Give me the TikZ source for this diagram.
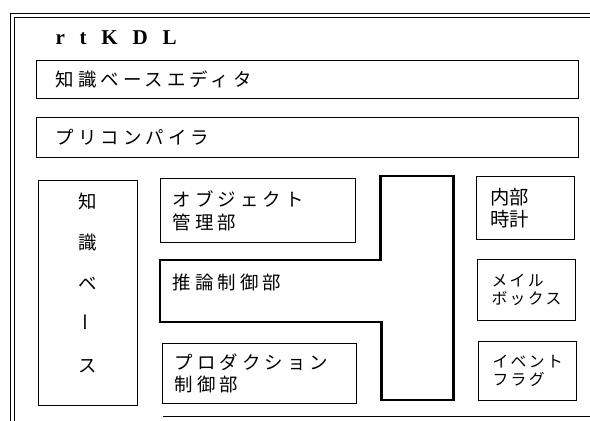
\documentclass[tikz,border=0pt]{standalone}
\usepackage{fontspec}
\usepackage{graphicx}
\newfontfamily\jp[LetterSpace=22]{Noto Sans CJK JP}
\newfontfamily\jpn{Noto Sans CJK JP}
\newfontfamily\jpsm[LetterSpace=15]{Noto Sans CJK JP}
\newfontfamily\ttl[LetterSpace=70]{Liberation Serif}
\usetikzlibrary{positioning}
\tikzset{every picture/.style={line width=0.6pt}}
\tikzstyle{box}=[draw,rectangle,anchor=north west,align=left,inner ysep=0pt]
\tikzstyle{frame}=[line width=0.5pt]
\tikzstyle{jtext}=[font={\jp\fontsize{10.5}{13}\selectfont}]

\begin{document}
\begin{tikzpicture}[x=0.02cm,y=-0.02cm]
\useasboundingbox (0,0) rectangle (590,421);
% outer frame
\draw[frame] (10,421) -- (10,13) -- (590,13);
\draw[frame] (14,421) -- (14,17) -- (590,17);
\draw[frame] (163,416) -- (590,416);
% title
\node[anchor=base west,inner sep=0pt,font={\ttl\fontsize{12}{12}\selectfont\bfseries}] (title) at (55,45) {rtKDL};
% editor and precompiler
\node[box,jtext,inner xsep=0.38cm,text width=10.08cm,minimum height=0.76cm] (ed) at (36,60)
  {知識ベースエディタ};
\node[box,jtext,inner xsep=0.38cm,text width=10.08cm,minimum height=0.8cm] (pc) at (36,117)
  {プリコンパイラ};
% knowledge base
\node[box,align=center,inner sep=0pt,minimum width=1.98cm,minimum height=4.5cm,text depth=0.42cm,
  font={\jpn\fontsize{10.5}{23.4}\selectfont}] (kb) at (38,180)
  {知\\識\\ベ\\\rotatebox{90}{ー}\\ス};
% object manager and production
\node[box,jtext,inner xsep=0.24cm,text width=3.42cm,minimum height=1.28cm] (obj) at (160,178)
  {オブジェクト\\管理部};
\node[box,jtext,inner xsep=0.24cm,text width=3.4cm,minimum height=1.2cm] (prod) at (162,343)
  {プロダクション\\制御部};
% inference control
\draw[line width=1.7pt] (160,260) -- (380,260) -- (380,176) -- (453,176) -- (453,400)
  -- (381,400) -- (381,322) -- (160,322) -- cycle;
\node[jtext,anchor=base west,inner sep=0pt] (inf) at (172,290) {推論制御部};
% right column
\node[box,inner xsep=0.28cm,text width=1.4cm,minimum height=1.26cm,
  font={\jpn\fontsize{11}{12.5}\selectfont}] (clk) at (476,176) {内部\\時計};
\node[box,inner xsep=0.28cm,text width=1.4cm,minimum height=1.22cm,
  font={\jpsm\fontsize{9}{10.5}\selectfont}] (mail) at (477,259) {メイル\\ボックス};
\node[box,inner xsep=0.28cm,text width=1.4cm,minimum height=1.18cm,
  font={\jpsm\fontsize{9}{10.5}\selectfont}] (evt) at (478,341) {イベント\\フラグ};
\end{tikzpicture}
\end{document}
